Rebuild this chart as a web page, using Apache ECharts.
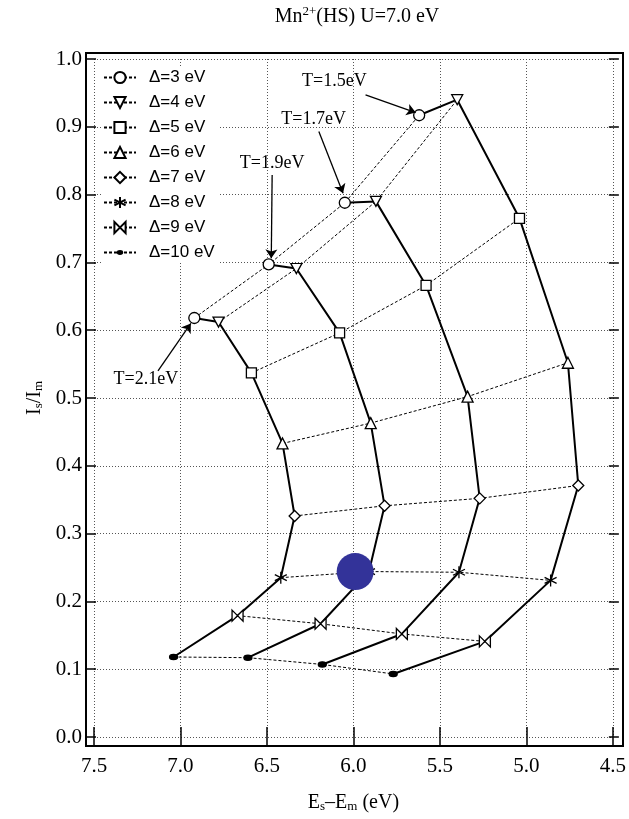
<!DOCTYPE html>
<html>
<head>
<meta charset="utf-8">
<script src="https://cdn.jsdelivr.net/npm/echarts@6/dist/echarts.min.js"></script>
<style>
  html, body {margin: 0; padding: 0; background: #fff;}
  #main {width: 629px; height: 819px;}
</style>
</head>
<body>
<div id="main"></div>
<script>
// Δ values (eV), one point of every T curve per Δ
const deltas = [3, 4, 5, 6, 7, 8, 9, 10]
const temps = ['1.5', '1.7', '1.9', '2.1']

// Es-Em (eV) and Is/Im, Δ=3..10, one pair of arrays per T
const es15 = [5.62, 5.40, 5.04, 4.76, 4.70, 4.86, 5.24, 5.77]
const is15 = [0.917, 0.940, 0.765, 0.552, 0.371, 0.231, 0.141, 0.093]
const es17 = [6.05, 5.87, 5.58, 5.34, 5.27, 5.39, 5.72, 6.18]
const is17 = [0.788, 0.790, 0.666, 0.502, 0.352, 0.243, 0.152, 0.107]
const es19 = [6.49, 6.33, 6.08, 5.90, 5.82, 5.91, 6.19, 6.61]
const is19 = [0.697, 0.691, 0.596, 0.463, 0.341, 0.244, 0.167, 0.117]
const es21 = [6.92, 6.78, 6.59, 6.41, 6.34, 6.42, 6.67, 7.04]
const is21 = [0.618, 0.612, 0.537, 0.433, 0.326, 0.235, 0.179, 0.118]

// blue dot
const dotX = [5.99]
const dotY = [0.244]

// T annotations: text position and arrow from/to
const noteText = ['T=1.5eV', 'T=1.7eV', 'T=1.9eV', 'T=2.1eV']
const noteX = [6.11, 6.23, 6.47, 7.20]
const noteY = [0.967, 0.911, 0.846, 0.528]
const arrowFromX = [5.93, 6.20, 6.47, 7.13]
const arrowFromY = [0.947, 0.893, 0.829, 0.540]
const arrowToX = [5.64, 6.06, 6.475, 6.94]
const arrowToY = [0.921, 0.802, 0.706, 0.610]

const xTicks = [4.5, 5.0, 5.5, 6.0, 6.5, 7.0, 7.5]
const yTicks = [0, 0.1, 0.2, 0.3, 0.4, 0.5, 0.6, 0.7, 0.8, 0.9, 1.0]

const esByT = [es15, es17, es19, es21]
const isByT = [is15, is17, is19, is21]

const serif = '"Liberation Serif", "DejaVu Serif", serif'
const sans = '"Liberation Sans", Arial, sans-serif'

const markers = [
  {symbol: 'circle', size: 11, fill: '#fff'},
  {symbol: 'path://M0,0L10,0L5,9Z', size: [11, 10], fill: '#fff'},
  {symbol: 'rect', size: 10, fill: '#fff'},
  {symbol: 'triangle', size: 11, fill: '#fff'},
  {symbol: 'diamond', size: 11, fill: '#fff'},
  {symbol: 'path://M5,0L5,10M0.7,2.5L9.3,7.5M0.7,7.5L9.3,2.5', size: 12, fill: 'none'},
  {symbol: 'path://M0,0L10,10L10,0L0,10Z', size: 11, fill: '#fff'},
  // small ellipse inside an empty 20x20 box, so the legend icon stays small too
  {symbol: 'path://M0,0M20,20M6,10A4,2.6 0 1,0 14,10A4,2.6 0 1,0 6,10Z', size: 20, fill: '#000'},
]

const deltaNames = deltas.map(d => `Δ=${d} eV`)

const tSeries = temps.map((t, k) => ({
  type: 'line',
  name: `T=${t}`,
  data: deltas.map((d, i) => [esByT[k][i], isByT[k][i]]),
  symbol: 'none',
  silent: true,
  lineStyle: {color: '#000', width: 2},
  z: 2,
}))

const deltaSeries = deltas.map((d, i) => ({
  type: 'line',
  name: deltaNames[i],
  data: [3, 2, 1, 0].map(k => [esByT[k][i], isByT[k][i]]),
  symbol: markers[i].symbol,
  symbolSize: markers[i].size,
  itemStyle: {color: markers[i].fill, borderColor: '#000', borderWidth: 1.3},
  lineStyle: {color: '#000', width: 1, type: [3, 2]},
  z: 3,
}))

const arrowSeries = {
  type: 'lines',
  coordinateSystem: 'cartesian2d',
  silent: true,
  symbol: ['none', 'arrow'],
  symbolSize: 9,
  lineStyle: {color: '#000', width: 1.3, opacity: 1},
  data: noteText.map((t, i) => ({coords: [[arrowFromX[i], arrowFromY[i]], [arrowToX[i], arrowToY[i]]]})),
  z: 4,
}

const dotSeries = {
  type: 'scatter',
  silent: true,
  symbolSize: 37,
  itemStyle: {color: '#333399', opacity: 1},
  data: dotX.map((x, i) => [x, dotY[i]]),
  z: 6,
}

const tickStyle = {show: true, inside: true, length: 10, lineStyle: {color: '#000', width: 1.5}}
const gridLine = {show: true, lineStyle: {color: '#555', width: 1, type: [1, 2]}}

const frameAndTitle = [{
  type: 'rect',
  shape: {x: 86, y: 53, width: 537, height: 693},
  style: {fill: 'none', stroke: '#000', lineWidth: 2},
  silent: true,
  z: 1,
}, {
  type: 'text',
  x: 357,
  y: 17,
  style: {
    text: '{a|Mn}{s|2+}{a|(HS) U=7.0 eV}',
    align: 'center',
    verticalAlign: 'middle',
    rich: {
      a: {fontFamily: serif, fontSize: 20, fill: '#000', lineHeight: 24},
      s: {fontFamily: serif, fontSize: 13, fill: '#000', verticalAlign: 'top', padding: [0, 0, 8, 0]},
    },
  },
  silent: true,
}]

const chart = echarts.init(document.getElementById('main'))

chart.setOption({
  animation: false,
  backgroundColor: '#fff',
  grid: {left: 94, right: 12, top: 59, bottom: 82},
  legend: {
    data: deltaNames,
    orient: 'vertical',
    left: 101,
    top: 67,
    padding: [2, 4, 2, 2],
    backgroundColor: '#fff',
    itemWidth: 32,
    itemHeight: 14,
    itemGap: 8,
    selectedMode: false,
    textStyle: {fontFamily: sans, fontSize: 17, color: '#000', lineHeight: 17, padding: [0, 0, 0, 8]},
  },
  xAxis: [{
    type: 'value',
    inverse: true,
    min: xTicks[0],
    max: xTicks[xTicks.length - 1],
    interval: 0.5,
    position: 'bottom',
    offset: 9,
    axisLine: {show: false},
    axisTick: tickStyle,
    axisLabel: {
      color: '#000', fontFamily: serif, fontSize: 21, margin: 10,
      formatter: v => v.toFixed(1),
    },
    splitLine: gridLine,
    name: '{a|E}{b|s}{a|–E}{b|m}{a| (eV)}',
    nameLocation: 'middle',
    nameGap: 46,
    nameTextStyle: {
      rich: {
        a: {fontFamily: serif, fontSize: 20, color: '#000'},
        b: {fontFamily: serif, fontSize: 13, color: '#000', verticalAlign: 'bottom', padding: [8, 0, 0, 0]},
      },
    },
  }, {
    type: 'value',
    inverse: true,
    min: xTicks[0],
    max: xTicks[xTicks.length - 1],
    interval: 0.5,
    position: 'top',
    offset: 6,
    axisLine: {show: false},
    axisTick: tickStyle,
    axisLabel: {show: false},
    splitLine: {show: false},
  }],
  yAxis: [{
    type: 'value',
    min: yTicks[0],
    max: yTicks[yTicks.length - 1],
    interval: 0.1,
    position: 'left',
    offset: 8,
    axisLine: {show: false},
    axisTick: tickStyle,
    axisLabel: {
      color: '#000', fontFamily: serif, fontSize: 21, margin: 4,
      formatter: v => v.toFixed(1),
    },
    splitLine: gridLine,
    name: '{a|I}{b|s}{a|/I}{b|m}',
    nameLocation: 'middle',
    nameRotate: 90,
    nameGap: 40,
    nameTextStyle: {
      rich: {
        a: {fontFamily: serif, fontSize: 20, color: '#000'},
        b: {fontFamily: serif, fontSize: 13, color: '#000', verticalAlign: 'bottom', padding: [8, 0, 0, 0]},
      },
    },
  }, {
    type: 'value',
    min: yTicks[0],
    max: yTicks[yTicks.length - 1],
    interval: 0.1,
    position: 'right',
    offset: 6,
    axisLine: {show: false},
    axisTick: tickStyle,
    axisLabel: {show: false},
    splitLine: {show: false},
  }],
  graphic: frameAndTitle,
  series: [...tSeries, ...deltaSeries, arrowSeries, dotSeries],
})

// T labels: placed at their data positions through the grid's own scale
const notes = noteText.map((t, i) => {
  const [px, py] = chart.convertToPixel({gridIndex: 0}, [noteX[i], noteY[i]])
  return {
    type: 'text',
    x: px,
    y: py,
    silent: true,
    z: 10,
    style: {text: t, align: 'center', verticalAlign: 'middle', fontFamily: serif, fontSize: 18, fill: '#000'},
  }
})
chart.setOption({graphic: [...frameAndTitle, ...notes]})
</script>
</body>
</html>
